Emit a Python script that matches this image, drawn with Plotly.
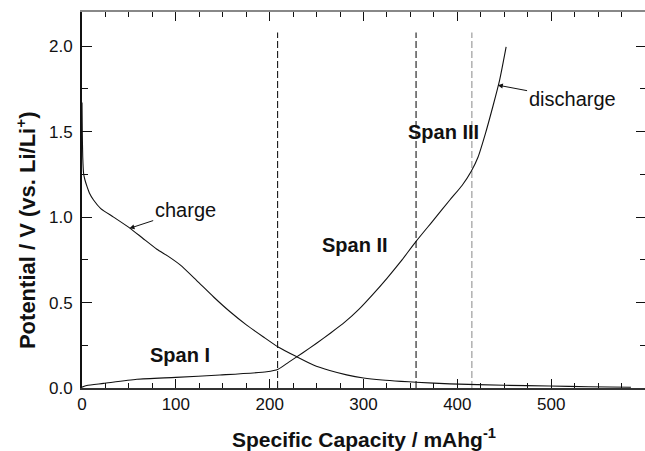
import plotly.graph_objects as go

# ---- data ----
charge_x = [0, 0.3, 0.8, 1.7, 3, 5.3, 8, 12.3, 20, 33.6, 51.4, 65, 79.8, 92, 104.6, 122, 140,
            157.8, 175.5, 193, 209, 228.7, 246, 264, 282, 300, 320, 340, 356, 392, 450, 498, 540, 585]
charge_y = [1.67, 1.50, 1.35, 1.255, 1.22, 1.18, 1.14, 1.10, 1.05, 1.00, 0.934, 0.875, 0.812, 0.77,
            0.72, 0.63, 0.534, 0.446, 0.368, 0.30, 0.24, 0.183, 0.136, 0.102, 0.077, 0.059, 0.047,
            0.039, 0.034, 0.024, 0.016, 0.012, 0.007, 0.004]

discharge_x = [0, 5, 23, 58.5, 100, 147, 196.8, 209, 220, 235, 250, 265, 280, 295, 310, 325,
               340, 356, 375, 392, 405, 415, 422, 430, 438, 445, 452]
discharge_y = [0.005, 0.015, 0.027, 0.051, 0.062, 0.076, 0.095, 0.11, 0.15, 0.205, 0.262, 0.322,
               0.385, 0.46, 0.548, 0.642, 0.742, 0.858, 0.985, 1.10, 1.185, 1.27, 1.35, 1.49,
               1.65, 1.80, 1.996]

span_bounds = [208.5, 356, 415.5]
span_colors = ["#000000", "#000000", "#888888"]
span_top = 2.08

x_ticks = [0, 100, 200, 300, 400, 500]
y_ticks = [0.0, 0.5, 1.0, 1.5, 2.0]
y_tick_text = ["0.0", "0.5", "1.0", "1.5", "2.0"]

FONT = "Liberation Sans, Arial, sans-serif"

fig = go.Figure()

for xb, col in zip(span_bounds, span_colors):
    fig.add_trace(go.Scatter(x=[xb, xb], y=[0, span_top], mode="lines",
                             line=dict(color=col, width=1, dash="7px,3px"),
                             showlegend=False, hoverinfo="skip"))

fig.add_trace(go.Scatter(x=charge_x, y=charge_y, mode="lines", name="charge",
                         line=dict(color="#111111", width=1.1, shape="spline", smoothing=0.6),
                         showlegend=False))
fig.add_trace(go.Scatter(x=discharge_x, y=discharge_y, mode="lines", name="discharge",
                         line=dict(color="#111111", width=1.1, shape="spline", smoothing=0.6),
                         showlegend=False))
# dummy trace to activate the mirror axes (top / right)
fig.add_trace(go.Scatter(x=[0], y=[0], xaxis="x2", yaxis="y2", mode="markers",
                         marker=dict(opacity=0), showlegend=False, hoverinfo="skip"))

X_RANGE = [0, 600]
Y_RANGE = [0, 2.2]
tickfont = dict(family=FONT, size=17, color="#111111")

fig.update_layout(
    width=645, height=451,
    margin=dict(l=82, r=0, t=12, b=63),
    paper_bgcolor="white", plot_bgcolor="white",
    font=dict(family=FONT, color="#111111"),
    xaxis=dict(range=X_RANGE, tickvals=x_ticks, ticks="inside", ticklen=9, tickwidth=1.2,
               tickcolor="#111111", showline=True, linecolor="#333333", linewidth=1.5,
               showgrid=False, zeroline=False, tickfont=tickfont,
               minor=dict(dtick=25, tick0=0, ticks="inside", ticklen=5, tickwidth=1,
                          tickcolor="#111111", showgrid=False)),
    yaxis=dict(range=Y_RANGE, tickvals=y_ticks, ticktext=y_tick_text, ticks="inside",
               ticklen=10, tickwidth=1.2, tickcolor="#111111", showline=True,
               linecolor="#111111", linewidth=2, showgrid=False, zeroline=False,
               tickfont=tickfont, ticklabelstandoff=4,
               minor=dict(dtick=0.25, tick0=0, ticks="inside", ticklen=6, tickwidth=1,
                          tickcolor="#111111", showgrid=False)),
    xaxis2=dict(range=X_RANGE, overlaying="x", side="top", anchor="y", tickvals=x_ticks,
                ticks="inside", ticklen=9, tickwidth=1.2, tickcolor="#111111",
                showticklabels=False, showline=True, linecolor="#888888", linewidth=1.5,
                showgrid=False, zeroline=False,
                minor=dict(dtick=25, tick0=0, ticks="inside", ticklen=5, tickwidth=1,
                           tickcolor="#111111", showgrid=False)),
    yaxis2=dict(range=Y_RANGE, overlaying="y", side="right", anchor="x", tickvals=y_ticks,
                ticks="inside", ticklen=9, tickwidth=1.2, tickcolor="#111111",
                showticklabels=False, showline=False, showgrid=False, zeroline=False,
                minor=dict(dtick=0.25, tick0=0, ticks="inside", ticklen=5, tickwidth=1,
                           tickcolor="#111111", showgrid=False)),
)

annotations = [
    dict(text="<b>Specific Capacity / mAhg<sup>-1</sup></b>", xref="paper", yref="paper",
         x=0.5, y=-0.133, showarrow=False, font=dict(family=FONT, size=21, color="#111111"),
         xanchor="center", yanchor="middle"),
    dict(text="<b>Potential / V (vs. Li/Li<sup>+</sup>)</b>", xref="paper", yref="paper",
         x=-0.0995, y=0.42, showarrow=False, textangle=-90,
         font=dict(family=FONT, size=22, color="#111111"), xanchor="center", yanchor="middle"),
    dict(text="charge", x=50.6, y=0.934, xref="x", yref="y", ax=55.7, ay=-18.3,
         showarrow=True, arrowhead=2, arrowsize=1, arrowwidth=1, arrowcolor="#111111",
         font=dict(family=FONT, size=20, color="#111111")),
    dict(text="discharge", x=443.2, y=1.772, xref="x", yref="y", ax=74.2, ay=14,
         showarrow=True, arrowhead=2, arrowsize=1, arrowwidth=1, arrowcolor="#111111",
         font=dict(family=FONT, size=20, color="#111111")),
    dict(text="<b>Span I</b>", x=104, y=0.193, xref="x", yref="y", showarrow=False,
         font=dict(family=FONT, size=20, color="#111111")),
    dict(text="<b>Span II</b>", x=290.7, y=0.836, xref="x", yref="y", showarrow=False,
         font=dict(family=FONT, size=20, color="#111111")),
    dict(text="<b>Span III</b>", x=385.4, y=1.50, xref="x", yref="y", showarrow=False,
         font=dict(family=FONT, size=20, color="#111111")),
]
fig.update_layout(annotations=annotations)

fig.write_html("out.html")
